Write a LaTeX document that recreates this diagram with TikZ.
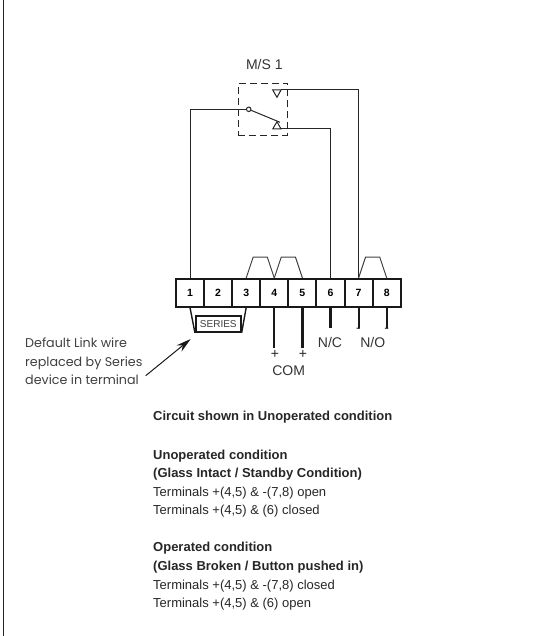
\documentclass[tikz,border=0pt]{standalone}
\usepackage{fontspec}
\setmainfont{Liberation Sans}
\newfontfamily\noteFont{Poppins}
\usetikzlibrary{arrows.meta,calc}

\begin{document}
\begin{tikzpicture}
    [x=1pt,y=-1pt,inner sep=0pt,
      terminal/.style={rectangle,minimum width=28.1pt,minimum height=27.5pt,
        draw=black!90,line width=2pt,fill=white,font=\bfseries\fontsize{10.5}{10.5}\selectfont},
      wire/.style={draw=black!85,line width=1pt},
      lead/.style={draw=black!90,line width=2.2pt},
      link/.style={draw=black!75,line width=1pt},
      label/.style={font=\fontsize{14}{14}\selectfont,text=black!80},
      pol/.style={font=\fontsize{14}{14}\selectfont,text=black!85},
      info/.style={anchor=west,font=\fontsize{13}{13}\selectfont,text=black!85},
      infob/.style={info,font=\bfseries\fontsize{13}{13}\selectfont}
    ]
    \useasboundingbox (0,0) rectangle (540,636);
    \draw [black!85,line width=1.2pt] (3.5,0) -- (3.5,636);

    \node [label] (msName) at (264.3,64) {M/S 1};
    \node [draw=black!85,dash pattern=on 7pt off 4pt,line width=1pt,minimum width=49.3pt,minimum height=51.7pt] (msBox) at (263,109.2) {};

    \node [circle,draw=black!85,line width=1pt,minimum size=4.5pt] (cPivot) at (248.7,109.3) {};
    \coordinate (cTip) at (280,122.3);
    \draw [wire] (cPivot) -- (cTip);
    \draw [wire] (272.7,90) -- (281,90) -- (277,97.3) -- cycle;
    \draw [wire] (272.7,129) -- (281,129) -- (277,121.7) -- cycle;

    % terminal strip
    \foreach \n/\px in {1/190,2/218.1,3/246.2,4/274.3,5/302.4,6/330.5,7/358.6,8/386.7}
      \node [terminal] (t\n) at (\px,292.75) {\n};

    % wires back to the switch
    \draw [wire] (cPivot) -- (190,109.3) -- (t1.north);
    \draw [wire] (281,129) -- (330.5,129) -- (t6.north);
    \draw [wire] (281,90) -- (358.6,90) -- (t7.north);

    % links on top of the strip
    \foreach \a/\b in {3/4,4/5,7/8}
      \draw [link] (t\a.north) -- ++(7,-21) -- ($(t\b.north)+(-7,-21)$) -- (t\b.north);

    % series device
    \node [draw=black!90,line width=2pt,fill=white,minimum width=44.7pt,minimum height=15.7pt,
      font=\fontsize{10}{10}\selectfont,text=black!75] (series) at (218.3,324) {SERIES};
    \draw [lead,line width=1.4pt] (t1.south) -- (series.south west);
    \draw [lead,line width=1.4pt] (t3.south) -- (series.south east);

    % leads below the strip
    \draw [lead] (t4.south) -- ++(0,40) coordinate (l4);
    \draw [lead] (t5.south) -- ++(0,40) coordinate (l5);
    \draw [lead] (t6.south) -- ++(0,20) coordinate (l6);
    \draw [lead] (t7.south) -- ++(0,20) coordinate (l7);
    \draw [lead] (t8.south) -- ++(0,20) coordinate (l8);

    \node [pol] (p4) at (275,354) {+};
    \node [pol] (p5) at (303,354) {+};
    \node [pol] (m7) at (358.5,330) {-};
    \node [pol] (m8) at (386.7,330) {-};
    \node [label] (com) at (288.7,370.7) {COM};
    \node [label] (nc) at (330,342.7) {N/C};
    \node [label] (no) at (372.7,342.7) {N/O};

    % note and its arrow
    \node [anchor=west,align=left,font=\noteFont\fontsize{12.7}{18.7}\selectfont,text=black!75] (note) at (25,361.5)
      {Default Link wire\\replaced by Series\\device in terminal};
    \coordinate (aStart) at (145.7,375.7);
    \coordinate (aEnd) at (190.7,339);
    \draw [black!90,line width=1pt,-{Stealth[length=15pt,width=8pt]}] (aStart) -- (aEnd);

    % text block
    \node [infob] (t1a) at (153,417) {Circuit shown in Unoperated condition};
    \node [infob] (t2a) at (153,455.7) {Unoperated condition};
    \node [infob] (t2b) at (153,474.5) {(Glass Intact / Standby Condition)};
    \node [info] (t2c) at (153,493) {Terminals +(4,5) \& -(7,8) open};
    \node [info] (t2d) at (153,511.3) {Terminals +(4,5) \& (6) closed};
    \node [infob] (t3a) at (153,548.3) {Operated condition};
    \node [infob] (t3b) at (153,567) {(Glass Broken / Button pushed in)};
    \node [info] (t3c) at (153,585.7) {Terminals +(4,5) \& -(7,8) closed};
    \node [info] (t3d) at (153,604) {Terminals +(4,5) \& (6) open};
\end{tikzpicture}
\end{document}
